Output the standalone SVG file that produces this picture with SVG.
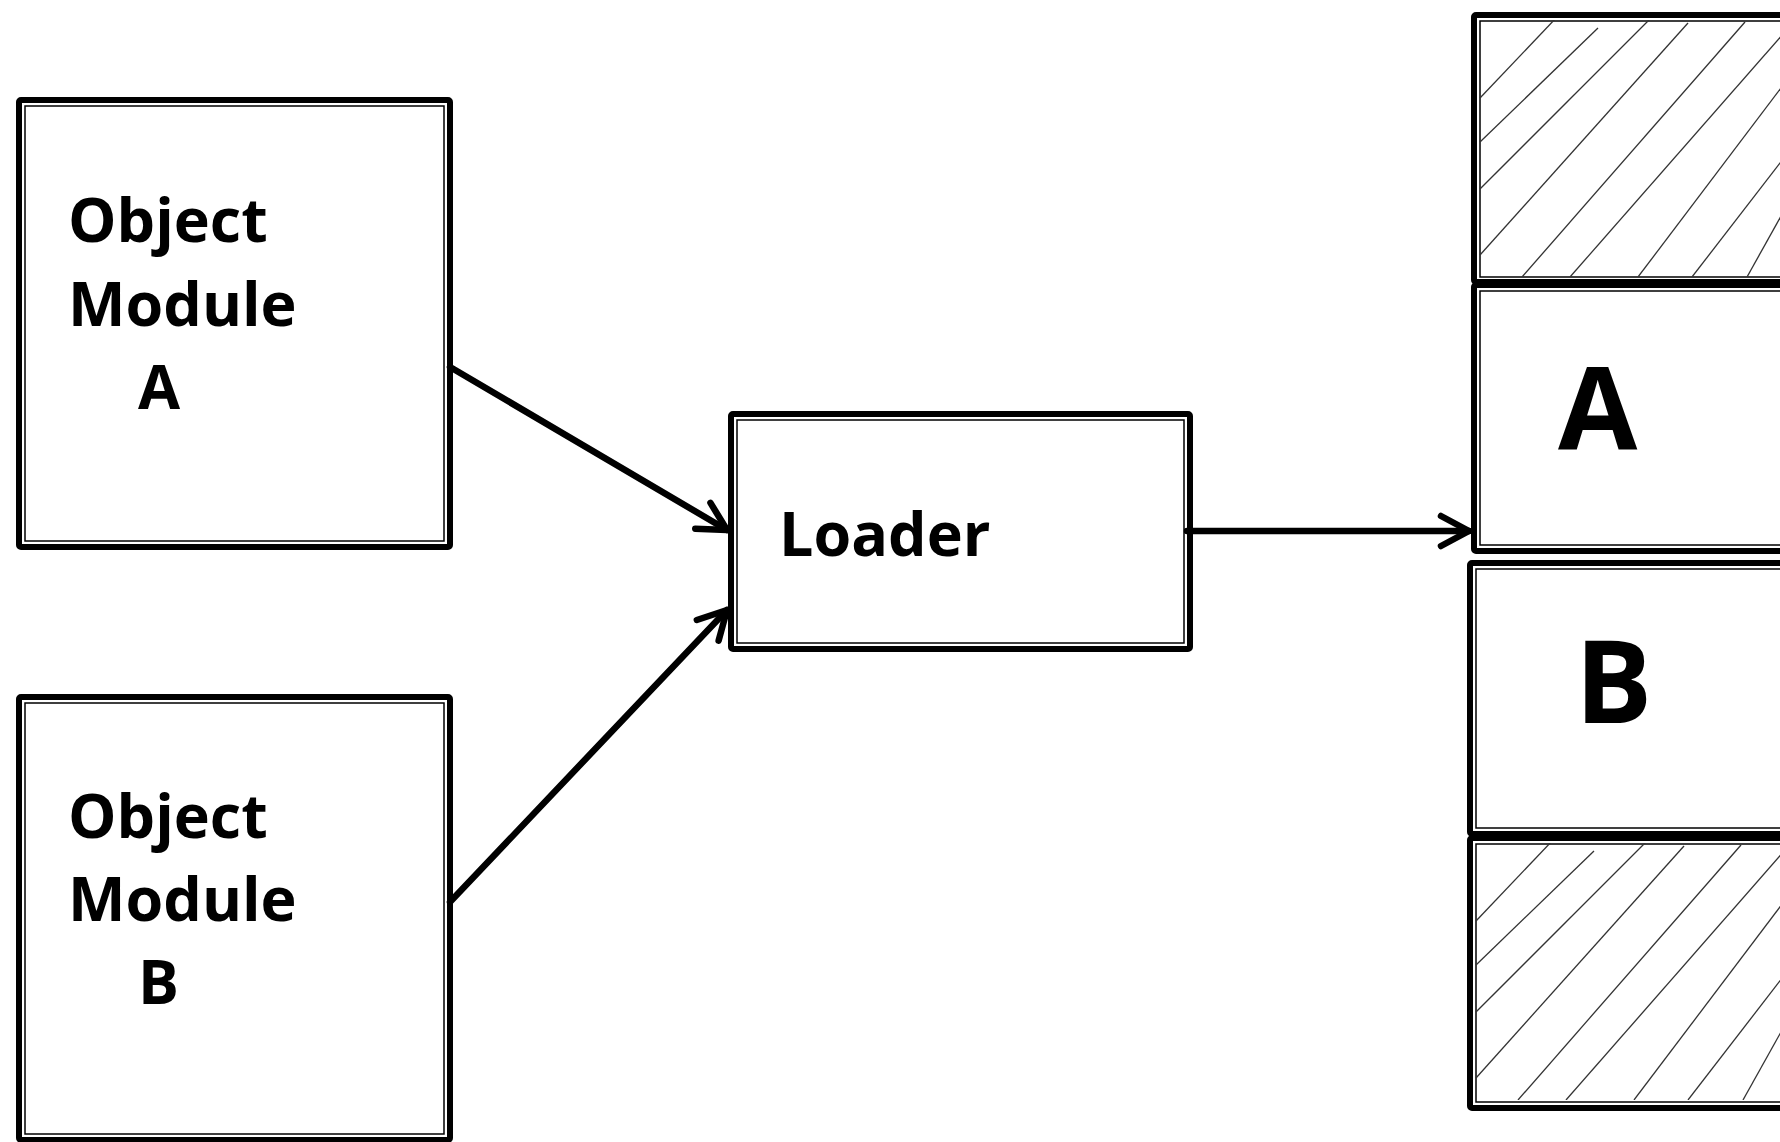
<svg xmlns="http://www.w3.org/2000/svg" xmlns:xlink="http://www.w3.org/1999/xlink" width="1780" height="1142" viewBox="0 0 1780 1142">
  <style>
    .outer { fill: #fff; stroke: #000; stroke-width: 6; stroke-linejoin: round; }
    .inner { fill: none; stroke: #000; stroke-width: 1.5; }
    .lbl { font-family: "Open Sans", "Noto Sans", "Liberation Sans", sans-serif; font-weight: bold; font-size: 61px; fill: #000; }
    .big { font-family: "Open Sans", "Noto Sans", "Liberation Sans", sans-serif; font-weight: bold; font-size: 115px; fill: #000; }
    .hatch line { stroke: #333; stroke-width: 1.3; }
    .conn { fill: none; stroke: #000; stroke-width: 6.5; stroke-linecap: round; }
  </style>
  <defs>
    <marker id="arr" markerUnits="userSpaceOnUse" orient="auto" overflow="visible" refX="0" refY="0" markerWidth="40" markerHeight="40">
      <path d="M-28,-15 L0,0 L-28,15" fill="none" stroke="#000" stroke-width="6.5" stroke-linecap="round" stroke-linejoin="round"/>
    </marker>
    <clipPath id="hclip">
      <rect x="1479" y="20" width="330" height="257"/>
    </clipPath>
    <g id="hatchlines" class="hatch" clip-path="url(#hclip)">
      <line x1="1480" y1="98" x2="1557" y2="17"/>
      <line x1="1480" y1="142" x2="1598" y2="28"/>
      <line x1="1480" y1="189" x2="1652" y2="17"/>
      <line x1="1480" y1="255" x2="1688" y2="23"/>
      <line x1="1522" y1="277" x2="1745" y2="22"/>
      <line x1="1570" y1="277" x2="1790" y2="26"/>
      <line x1="1638" y1="277" x2="1790" y2="76"/>
      <line x1="1692" y1="277" x2="1790" y2="150"/>
      <line x1="1747" y1="277" x2="1790" y2="200"/>
    </g>
  </defs>

  <g id="object-module-a">
    <rect class="outer" x="19" y="100" width="431" height="447" rx="2"/>
    <rect class="inner" x="25" y="106" width="419" height="435"/>
    <text class="lbl" x="68" y="242">Object</text>
    <text class="lbl" x="68" y="326">Module</text>
    <text class="lbl" x="138" y="409">A</text>
  </g>

  <g id="object-module-b">
    <rect class="outer" x="19" y="697" width="431" height="443" rx="2"/>
    <rect class="inner" x="25" y="703" width="419" height="431"/>
    <text class="lbl" x="68" y="838">Object</text>
    <text class="lbl" x="68" y="921">Module</text>
    <text class="lbl" x="138" y="1004">B</text>
  </g>

  <g id="loader">
    <rect class="outer" x="731" y="414" width="459" height="235" rx="2"/>
    <rect class="inner" x="737" y="420" width="447" height="223"/>
    <text class="lbl" x="779" y="556">Loader</text>
  </g>

  <g id="memory-top-free">
    <rect class="outer" x="1474" y="15" width="340" height="267" rx="2"/>
    <rect class="inner" x="1480" y="21" width="330" height="256"/>
    <use xlink:href="#hatchlines"/>
  </g>

  <g id="memory-a">
    <rect class="outer" x="1474" y="285" width="340" height="266" rx="2"/>
    <rect class="inner" x="1480" y="291" width="330" height="254"/>
    <text class="big" x="1558" y="450">A</text>
  </g>

  <g id="memory-b">
    <rect class="outer" x="1470" y="563" width="344" height="271" rx="2"/>
    <rect class="inner" x="1476" y="569" width="334" height="259"/>
    <text class="big" x="1575" y="723">B</text>
  </g>

  <g id="memory-bottom-free">
    <rect class="outer" x="1470" y="838" width="344" height="270" rx="2"/>
    <rect class="inner" x="1476" y="844" width="334" height="258"/>
    <use xlink:href="#hatchlines" transform="translate(-4,823)"/>
  </g>

  <g id="connectors">
    <path class="conn" d="M450,367 L727,530" marker-end="url(#arr)"/>
    <path class="conn" d="M450,902 L727,610" marker-end="url(#arr)"/>
    <path class="conn" d="M1187,531 L1469,531" marker-end="url(#arr)"/>
  </g>
</svg>
